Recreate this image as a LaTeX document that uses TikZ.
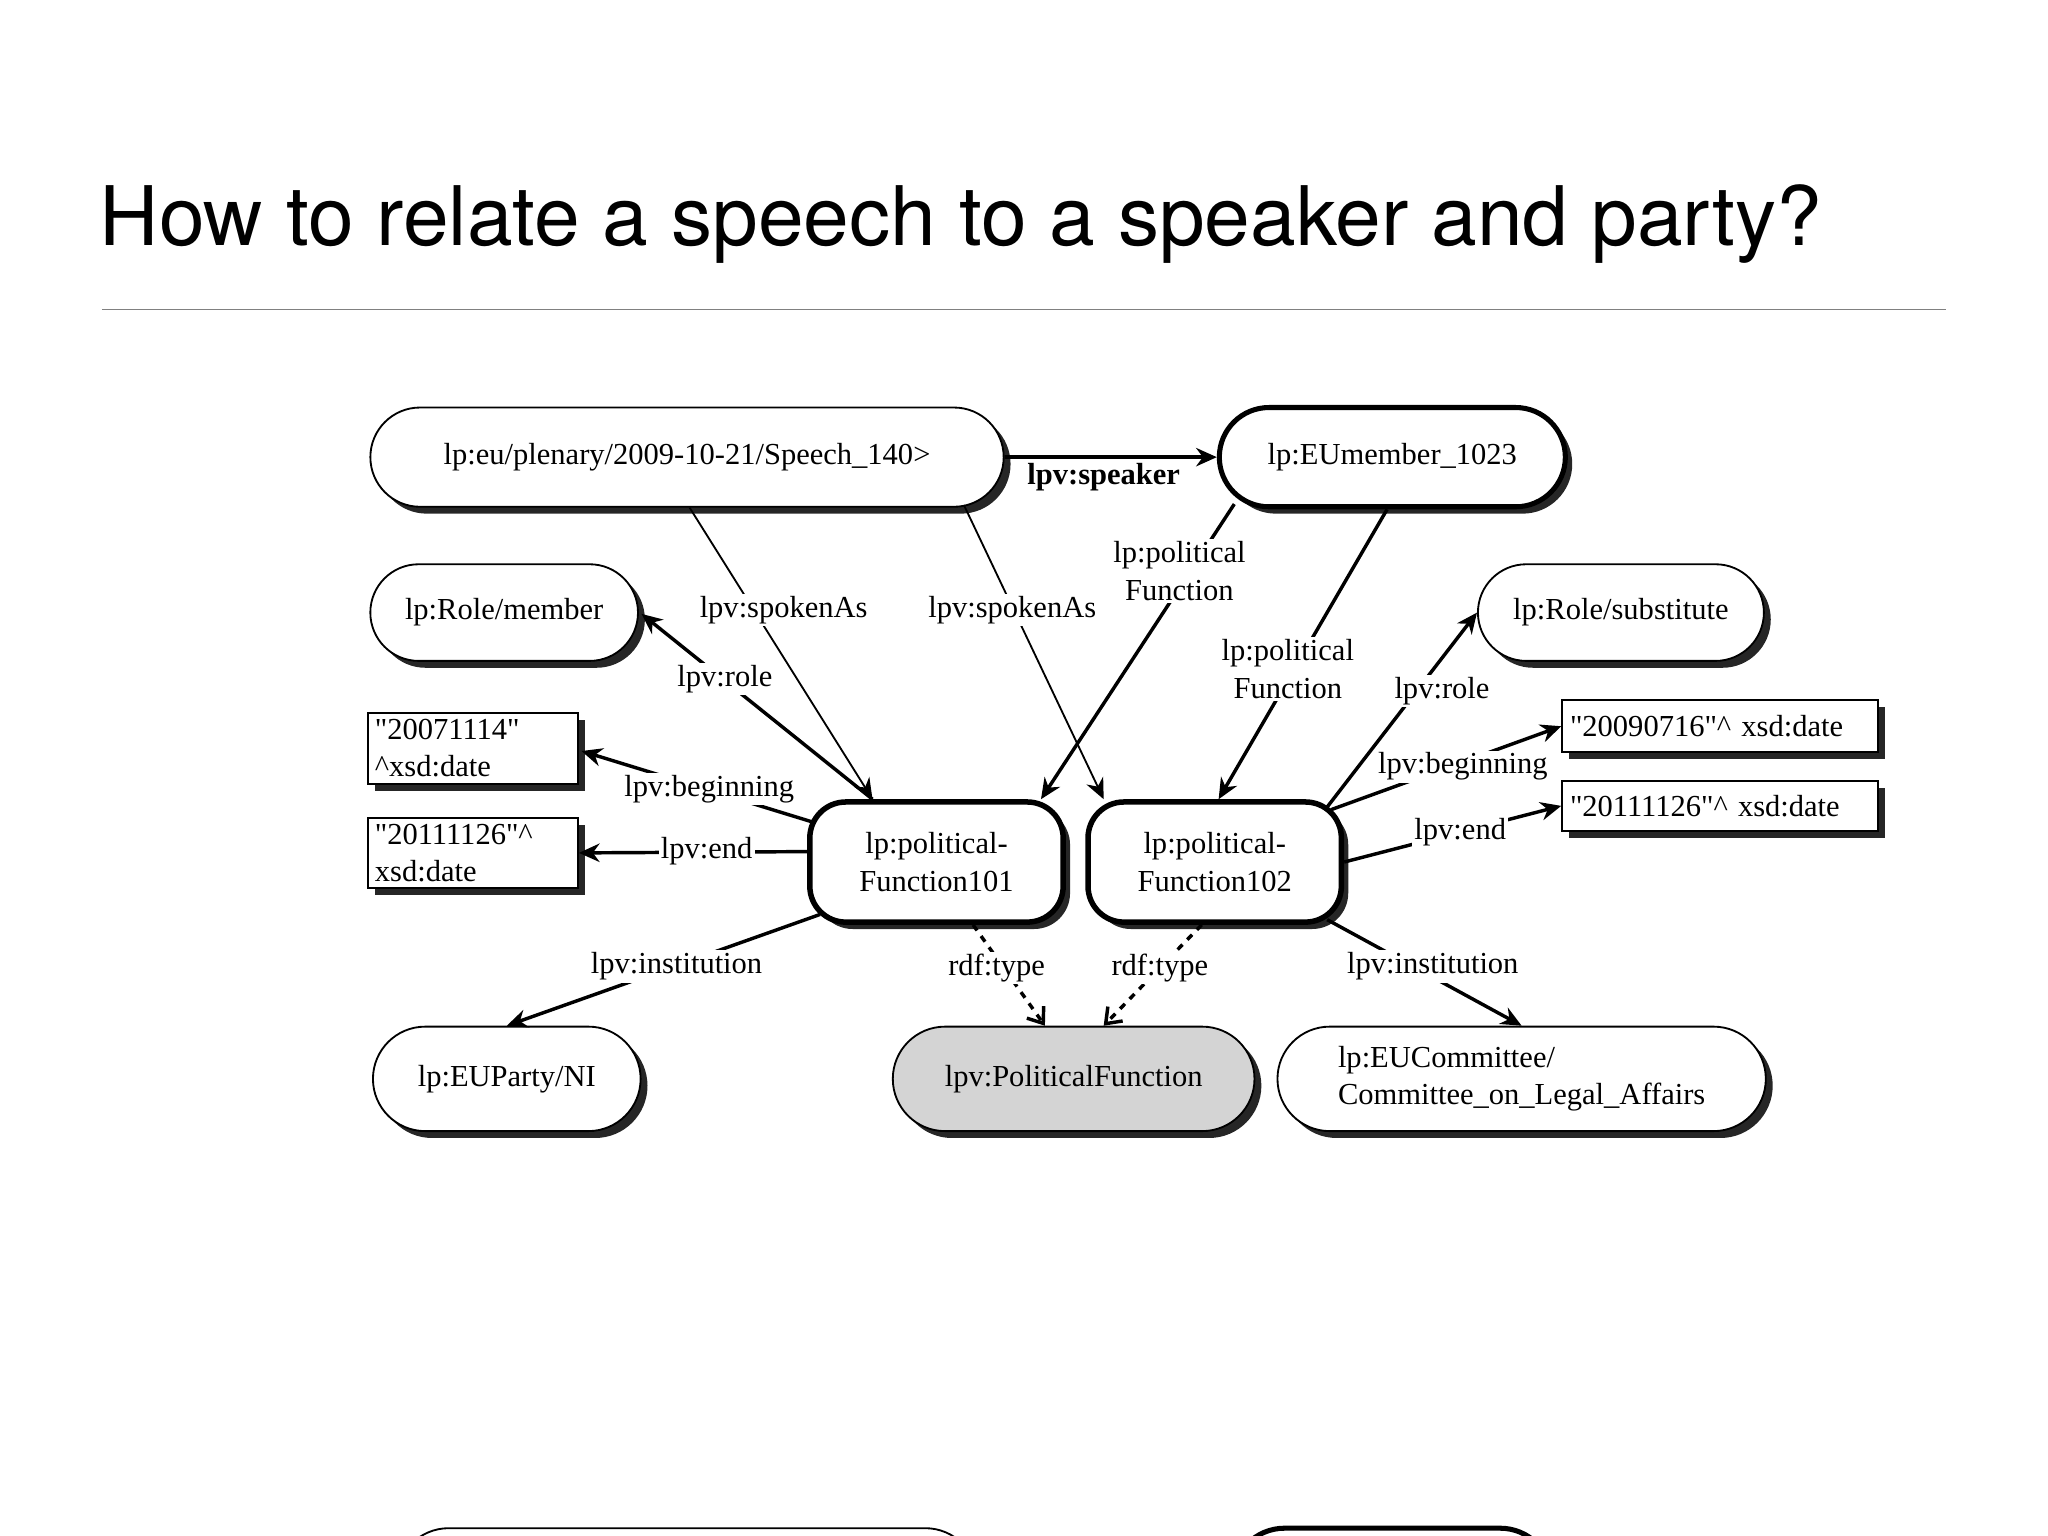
\documentclass[tikz,border=0pt]{standalone}
\usepackage{fontspec}
\setmainfont{Liberation Serif}
\newfontfamily\qfont{Liberation Serif}[Ligatures=TeXOff]
\newfontfamily\titlefont{TeX Gyre Heros}
\usetikzlibrary{shapes.misc,shadows,arrows.meta,calc}
\newcommand{\qq}{{\qfont\symbol{34}}}
\begin{document}
\begin{tikzpicture}[x=0.02cm,y=-0.02cm,
  shd/.style={drop shadow={shadow xshift=3pt,shadow yshift=-3pt,opacity=0.85,fill=black}},
  ent/.style={rounded rectangle,draw,fill=white,line width=0.8pt,shd,font=\fontsize{13.3}{16}\selectfont,inner sep=2pt},
  thk/.style={line width=2.2pt},
  pfbox/.style={rectangle,rounded corners=0.55cm,draw,fill=white,line width=2.4pt,shd,align=center,font=\fontsize{13.3}{16.5}\selectfont,minimum width=3.88cm,minimum height=1.84cm},
  lit/.style={rectangle,draw,fill=white,line width=0.8pt,shd,align=left,font=\fontsize{13.3}{16}\selectfont,inner sep=2pt},
  lbl/.style={fill=white,inner sep=1pt,align=center,font=\fontsize{13.3}{16.5}\selectfont},
  arr/.style={line width=1.5pt,-{Stealth[length=9pt,width=8pt]}},
  thin arr/.style={line width=0.8pt,-{Stealth[length=9pt,width=8pt]}},
  dsh/.style={line width=1.5pt,dashed,-{Straight Barb[length=6pt,width=9pt]}}]
\useasboundingbox (0,0) rectangle (1568,1176);
\clip (0,0) rectangle (1568,1176);
\node[anchor=base west,inner sep=0pt,font=\titlefont\fontsize{35.8}{40}\selectfont] (title) at (76,188) {How to relate a speech to a speaker and party?};
\draw[gray,line width=0.6pt] (78,237) -- (1490,237);

\node[ent,minimum width=9.84cm,minimum height=1.52cm] (sp) at (526,350) {lp:eu/plenary/2009-10-21/Speech\_140>};
\node[ent,thk,minimum width=5.44cm,minimum height=1.52cm] (eu) at (1066,350) {lp:EUmember\_1023};
\node[ent,minimum width=4.24cm,minimum height=1.48cm] (rm) at (386,469) {lp:Role/member};
\node[ent,minimum width=4.52cm,minimum height=1.48cm] (rs) at (1241,469) {lp:Role/substitute};
\node[lit,minimum width=3.22cm,minimum height=1.08cm,text width=3.0cm] (d1) at (362,573) {\qq20071114\qq\\\^{}xsd:date};
\node[lit,minimum width=3.22cm,minimum height=1.08cm,text width=3.0cm] (d2) at (362,653) {\qq20111126\qq\^{}\\xsd:date};
\node[lit,minimum width=4.84cm,minimum height=0.8cm,text width=4.6cm] (d3) at (1317,556) {\qq20090716\qq\^{} xsd:date};
\node[lit,minimum width=4.84cm,minimum height=0.76cm,text width=4.6cm] (d4) at (1317,617) {\qq20111126\qq\^{} xsd:date};
\node[pfbox] (pf1) at (717,660) {lp:political-\\Function101};
\node[pfbox] (pf2) at (930,660) {lp:political-\\Function102};
\node[ent,minimum width=4.24cm,minimum height=1.6cm] (party) at (388,826) {lp:EUParty/NI};
\node[ent,fill=black!17,minimum width=5.68cm,minimum height=1.6cm] (polf) at (822,826) {lpv:PoliticalFunction};
\node[ent,minimum width=7.62cm,minimum height=1.6cm,align=left] (comm) at (1165,826) {lp:EUCommittee/\\Committee\_on\_Legal\_Affairs};
\node[ent,minimum width=9.04cm,minimum height=1.6cm] (b1) at (526,1210) {};
\node[ent,thk,minimum width=5.04cm,minimum height=1.6cm] (b2) at (1066,1210) {};

\draw[arr] (sp.east) -- (eu.west);
\draw[thin arr] ($(sp.south)+(2,0)$) -- ($(pf1.north)+(-49,0)$);
\draw[thin arr] ($(sp.south)+(212,-2)$) -- ($(pf2.north)+(-85,0)$);
\draw[arr] ($(eu.south)+(-121,-4)$) -- ($(pf1.north)+(80,0)$);
\draw[arr] ($(eu.south)+(-4,0)$) -- ($(pf2.north)+(3,0)$);
\draw[arr] ($(pf1.north)+(-49,0)$) -- ($(rm.east)+(2,1)$);
\draw[arr] ($(pf2.north east)+(-13,6)$) -- (rs.west);
\draw[arr] ($(pf1.north west)+(6,18)$) -- ($(d1.east)+(2,2)$);
\draw[arr] ($(pf1.west)+(0,-8)$) -- (d2.east);
\draw[arr] ($(pf2.north east)+(-10,8)$) -- (d3.west);
\draw[arr] (pf2.east) -- (d4.west);
\draw[arr] ($(pf1.south west)+(10,-8)$) -- (party.north);
\draw[arr] ($(pf2.south east)+(-13,-4)$) -- (comm.north);
\draw[dsh] ($(pf1.south)+(28,0)$) -- ($(polf.north)+(-22,0)$);
\draw[dsh] ($(pf2.south)+(-10,0)$) -- ($(polf.north)+(23,0)$);

\node[lbl,font=\bfseries\fontsize{13.3}{16}\selectfont,fill=none] (lspk) at (845,365) {lpv:speaker};
\node[lbl] (lsa1) at (600,467) {lpv:spokenAs};
\node[lbl] (lsa2) at (775,467) {lpv:spokenAs};
\node[lbl] (lpf1) at (903,437) {lp:political\\Function};
\node[lbl] (lpf2) at (986,512) {lp:political\\Function};
\node[lbl] (lr1) at (555,520) {lpv:role};
\node[lbl] (lr2) at (1104,529) {lpv:role};
\node[lbl] (lb1) at (543,604) {lpv:beginning};
\node[lbl] (le1) at (541,652) {lpv:end};
\node[lbl] (lb2) at (1120,587) {lpv:beginning};
\node[lbl] (le2) at (1118,637) {lpv:end};
\node[lbl] (li1) at (518,740) {lpv:institution};
\node[lbl] (li2) at (1097,740) {lpv:institution};
\node[lbl] (lt1) at (763,741) {rdf:type};
\node[lbl] (lt2) at (888,741) {rdf:type};
\end{tikzpicture}
\end{document}
